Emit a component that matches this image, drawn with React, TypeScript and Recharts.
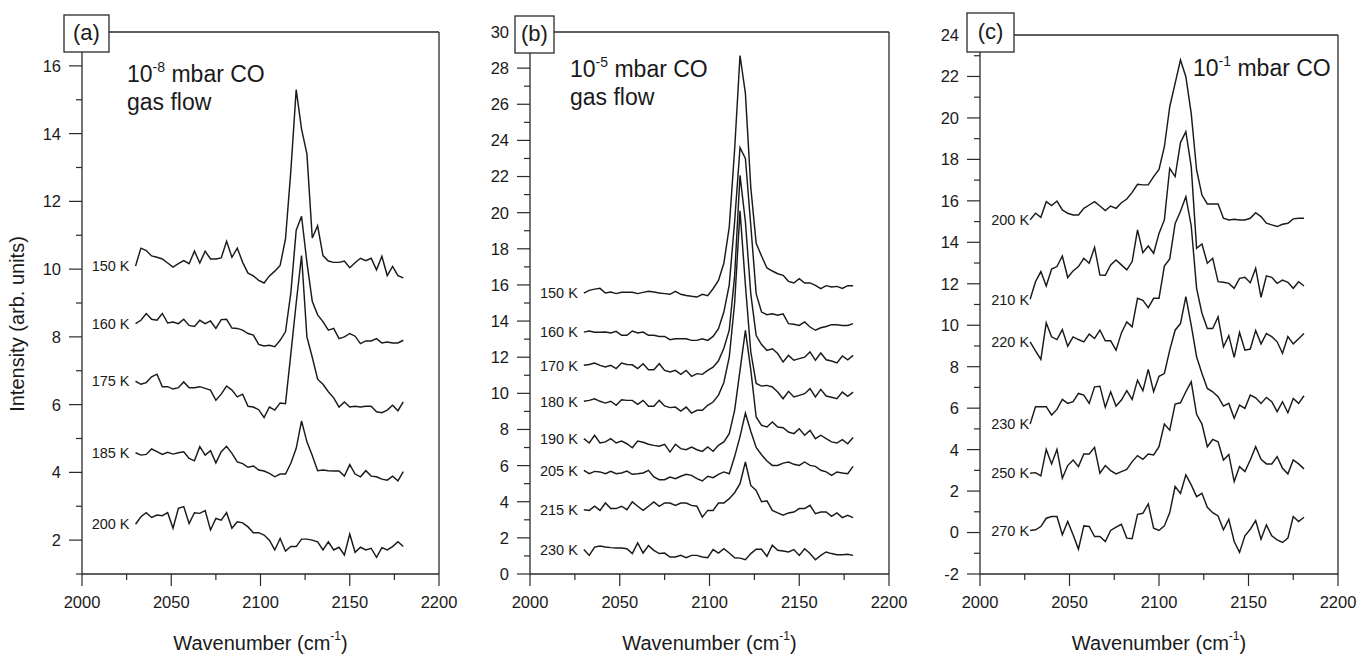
import { Line, LineChart, ReferenceLine, XAxis, YAxis } from "recharts";

const FONT = '"Liberation Sans", Arial, Helvetica, sans-serif';
const INK = "#1a1a1a";
const FRAME = "#2a2a2a";

// wavenumber grids (cm-1)
const wavenumbersAB = [
  2030, 2033, 2036, 2039, 2042, 2045, 2048, 2051, 2054, 2057, 2060, 2063, 2066, 2069, 2072, 2075, 2078,
  2081, 2084, 2087, 2090, 2093, 2096, 2099, 2102, 2105, 2108, 2111, 2114, 2117, 2120, 2123, 2126, 2129,
  2132, 2135, 2138, 2141, 2144, 2147, 2150, 2153, 2156, 2159, 2162, 2165, 2168, 2171, 2174, 2177, 2180,
];
const wavenumbersC = [
  2028, 2031, 2034, 2037, 2040, 2043, 2046, 2049, 2052, 2055, 2058, 2061, 2064, 2067, 2070, 2073, 2076,
  2079, 2082, 2085, 2088, 2091, 2094, 2097, 2100, 2103, 2106, 2109, 2112, 2115, 2118, 2121, 2124, 2127,
  2130, 2133, 2136, 2139, 2142, 2145, 2148, 2151, 2154, 2157, 2160, 2163, 2166, 2169, 2172, 2175, 2178,
  2181,
];

// (a) 1e-8 mbar CO
const a150 = [
  10.09, 10.62, 10.55, 10.39, 10.35, 10.3, 10.18, 10.06, 10.16, 10.25,
  10.16, 10.53, 10.18, 10.53, 10.3, 10.3, 10.33, 10.82, 10.35, 10.62,
  10.2, 9.88, 9.8, 9.67, 9.59, 9.8, 9.94, 10.11, 10.89, 12.9,
  15.3, 14.13, 13.4, 10.92, 11.28, 10.4, 10.24, 10.2, 10.2, 10.24,
  10.04, 10.19, 10.32, 10.25, 10.32, 9.98, 10.38, 9.81, 10.08, 9.81,
  9.74,
];
const a160 = [
  8.39, 8.49, 8.69, 8.52, 8.49, 8.69, 8.41, 8.44, 8.39, 8.52,
  8.34, 8.31, 8.49, 8.39, 8.47, 8.25, 8.51, 8.52, 8.26, 8.25,
  8.2, 8.1, 8.05, 7.78, 7.73, 7.75, 7.71, 7.9, 8.15, 9.3,
  11.15, 11.56, 10.2, 9.05, 8.65, 8.45, 8.2, 8.25, 7.95, 8.0,
  8.1, 8.02, 7.8, 7.88, 7.88, 7.95, 7.82, 7.85, 7.82, 7.82,
  7.9,
];
const a175 = [
  6.69, 6.6, 6.65, 6.82, 6.9, 6.53, 6.53, 6.46, 6.5, 6.67,
  6.5, 6.5, 6.53, 6.48, 6.43, 6.13, 6.31, 6.55, 6.43, 6.23,
  6.31, 5.95, 5.93, 5.85, 5.62, 5.93, 5.84, 6.05, 6.03, 7.5,
  9.0, 10.4, 8.0, 7.4, 6.75, 6.6, 6.38, 6.2, 5.93, 6.08,
  5.93, 5.95, 5.93, 5.95, 5.95, 5.79, 5.76, 5.84, 5.98, 5.82,
  6.08,
];
const a185 = [
  4.58, 4.51, 4.53, 4.69, 4.61, 4.53, 4.59, 4.54, 4.58, 4.61,
  4.41, 4.34, 4.76, 4.51, 4.64, 4.28, 4.61, 4.77, 4.56, 4.31,
  4.26, 4.15, 4.19, 4.07, 4.04, 3.97, 3.87, 3.95, 3.95, 4.27,
  4.71, 5.52, 4.9, 4.5, 4.05, 4.07, 4.05, 4.04, 4.04, 3.89,
  4.23, 3.95, 3.87, 4.05, 3.89, 3.87, 3.8, 3.77, 3.89, 3.75,
  4.02,
];
const a200 = [
  2.47, 2.69, 2.81, 2.67, 2.74, 2.72, 2.81, 2.35, 2.94, 2.99,
  2.49, 2.81, 2.79, 2.87, 2.3, 2.64, 2.59, 2.81, 2.35, 2.54,
  2.51, 2.39, 2.22, 2.22, 2.15, 2.0, 1.71, 2.05, 1.68, 1.81,
  1.81, 2.03, 2.03, 2.0, 1.95, 1.71, 1.95, 1.71, 1.79, 1.56,
  2.18, 1.64, 1.79, 1.71, 1.76, 1.49, 1.78, 1.71, 1.81, 1.95,
  1.81,
];

// (b) 1e-5 mbar CO
const b150 = [
  15.55, 15.7, 15.77, 15.81, 15.55, 15.61, 15.52, 15.59, 15.59, 15.59,
  15.52, 15.59, 15.65, 15.61, 15.55, 15.52, 15.48, 15.65, 15.48, 15.42,
  15.37, 15.33, 15.48, 15.41, 15.79, 16.25, 17.2, 19.2, 23.5, 28.7,
  26.6, 21.4, 18.3, 17.6, 16.94, 16.77, 16.62, 16.53, 16.2, 16.11,
  16.35, 16.11, 16.11, 15.98, 15.79, 15.96, 15.89, 15.92, 15.81, 15.96,
  15.96,
];
const b160 = [
  13.39, 13.45, 13.38, 13.38, 13.39, 13.34, 13.43, 13.21, 13.21, 13.45,
  13.34, 13.39, 13.21, 13.21, 13.15, 13.15, 12.97, 13.02, 13.02, 13.02,
  12.93, 12.93, 13.02, 12.93, 13.15, 13.58, 14.5, 16.0, 19.5, 23.6,
  23.0, 19.3, 15.5, 14.5, 14.35, 14.4, 14.32, 14.4, 13.86, 13.82,
  13.76, 13.95, 13.67, 13.49, 13.63, 13.7, 13.8, 13.8, 13.76, 13.76,
  13.86,
];
const b170 = [
  11.55, 11.6, 11.68, 11.55, 11.46, 11.55, 11.37, 11.68, 11.6, 11.58,
  11.37, 11.64, 11.31, 11.31, 11.64, 11.27, 11.18, 11.27, 11.05, 11.27,
  10.94, 11.09, 11.05, 11.27, 11.45, 11.8, 12.5, 13.5, 16.5, 22.06,
  19.5, 15.5, 13.2, 12.7, 12.38, 12.47, 12.2, 11.73, 12.1, 11.83,
  11.92, 12.0, 12.29, 11.83, 12.23, 11.86, 11.79, 11.68, 12.07, 11.86,
  12.1,
];
const b180 = [
  9.56, 9.61, 9.7, 9.56, 9.46, 9.56, 9.34, 9.65, 9.61, 9.61,
  9.39, 9.61, 9.28, 9.28, 9.61, 9.3, 9.21, 9.24, 9.02, 9.24,
  8.91, 9.06, 9.06, 9.34, 9.52, 9.9, 10.6, 12.0, 15.0, 20.1,
  16.0, 12.3, 10.55, 10.4, 10.44, 10.35, 10.07, 9.7, 10.11, 9.8,
  9.89, 9.98, 10.26, 9.8, 10.22, 9.85, 9.78, 9.7, 10.07, 9.83,
  10.07,
];
const b190 = [
  7.49, 7.25, 7.68, 7.25, 7.31, 7.49, 7.25, 7.36, 7.21, 6.99,
  7.36, 7.29, 7.18, 7.12, 7.07, 7.18, 6.75, 7.18, 6.94, 6.88,
  7.03, 6.88, 6.79, 7.03, 6.79, 7.12, 7.31, 7.77, 9.06, 11.27,
  13.49, 11.3, 8.69, 8.23, 8.14, 8.41, 8.14, 8.1, 7.86, 7.77,
  8.04, 7.68, 7.95, 7.49, 7.68, 7.49, 7.31, 7.25, 7.44, 7.21,
  7.55,
];
const b205 = [
  5.74, 5.55, 5.68, 5.65, 5.55, 5.68, 5.55, 5.59, 5.7, 5.52,
  5.55, 5.59, 5.74, 5.37, 5.22, 5.22, 5.37, 5.28, 5.41, 5.52,
  5.46, 5.28, 5.15, 5.41, 5.33, 5.52, 5.65, 5.55, 6.5, 7.6,
  8.9, 7.9, 7.0, 6.6, 6.25, 6.01, 6.01, 6.14, 6.2, 6.07,
  6.01, 6.2, 6.01, 5.96, 5.74, 5.65, 5.46, 5.65, 5.59, 5.55,
  5.96,
];
const b215 = [
  3.56, 3.52, 3.75, 3.52, 3.93, 3.62, 3.62, 3.75, 3.56, 3.99,
  3.75, 3.52, 3.75, 3.99, 3.75, 3.93, 3.93, 3.8, 3.93, 3.93,
  3.8, 3.75, 3.15, 3.52, 3.52, 3.93, 3.93, 4.17, 4.5, 5.0,
  6.2, 4.9, 4.63, 4.0, 4.05, 3.52, 3.38, 3.25, 3.38, 3.43,
  3.62, 3.62, 3.8, 3.34, 3.43, 3.43, 3.19, 3.38, 3.12, 3.25,
  3.12,
];
const b230 = [
  1.35, 1.03, 1.49, 1.55, 1.49, 1.46, 1.44, 1.44, 1.4, 1.13,
  1.72, 1.16, 1.57, 1.31, 1.13, 1.16, 0.94, 0.94, 1.03, 0.9,
  1.03, 1.03, 0.94, 0.9, 1.35, 1.16, 1.4, 1.16, 0.9, 0.88,
  0.79, 1.13, 1.37, 1.37, 0.98, 1.59, 1.31, 1.27, 1.22, 1.35,
  1.03, 1.4, 1.13, 0.79, 1.03, 1.22, 1.13, 1.07, 1.07, 1.09,
  1.03,
];

// (c) 1e-1 mbar CO
const c200 = [
  15.08, 15.4, 15.21, 15.96, 15.77, 15.99, 15.56, 15.4, 15.32, 15.32,
  15.64, 15.8, 15.96, 15.75, 15.53, 15.75, 15.64, 15.91, 16.09, 16.41,
  16.8, 16.77, 16.77, 17.17, 17.52, 18.61, 20.54, 21.67, 22.79, 21.99,
  20.22, 17.49, 16.28, 15.85, 15.85, 15.85, 15.16, 15.08, 15.11, 15.08,
  15.08, 15.16, 15.43, 15.24, 14.92, 14.84, 14.76, 14.87, 14.92, 15.13,
  15.16, 15.16,
];
const c210 = [
  11.25, 12.1, 12.59, 11.89, 12.71, 12.83, 13.34, 12.3, 12.62, 12.83,
  13.23, 12.99, 13.76, 12.42, 12.41, 12.91, 13.15, 12.91, 12.67, 13.07,
  14.6, 13.5, 13.82, 13.47, 14.43, 15.08, 17.57, 17.17, 18.81, 19.34,
  17.65, 13.71, 13.92, 12.99, 13.23, 12.1, 12.07, 12.02, 11.78, 12.26,
  12.31, 12.05, 12.75, 11.35, 12.38, 12.31, 12.02, 12.18, 12.07, 11.78,
  12.1, 11.89,
];
const c220 = [
  9.2, 8.76, 8.35, 10.11, 9.44, 9.31, 9.79, 8.99, 9.44, 9.31,
  9.2, 9.57, 9.36, 9.76, 9.25, 9.25, 8.8, 9.63, 10.16, 9.92,
  11.3, 11.2, 10.85, 11.3, 11.3, 12.85, 13.2, 14.9, 15.5, 16.2,
  14.8, 11.78, 10.58, 9.84, 9.84, 10.4, 8.95, 9.5, 8.45, 9.65,
  8.8, 8.85, 9.75, 9.1, 9.6, 9.45, 9.2, 8.65, 9.45, 9.1,
  9.35, 9.6,
];
const c230 = [
  5.23, 6.07, 6.07, 6.07, 5.67, 5.94, 6.42, 6.23, 6.31, 6.71,
  6.63, 6.23, 7.03, 7.06, 6.04, 6.79, 6.1, 6.39, 6.84, 6.42,
  7.35, 6.84, 7.87, 6.79, 7.54, 7.67, 8.8, 9.76, 10.08, 11.38,
  10.0, 8.48, 7.67, 6.95, 6.79, 6.55, 6.1, 6.23, 5.51, 6.15,
  5.99, 6.63, 6.5, 6.23, 6.52, 6.31, 5.83, 6.31, 5.78, 6.47,
  6.23, 6.6,
];
const c250 = [
  2.86, 2.89, 2.73, 4.01, 3.31, 4.01, 2.62, 3.23, 3.5, 3.18,
  3.79, 3.79, 4.11, 2.86, 3.23, 2.99, 2.83, 2.94, 3.05, 3.42,
  3.71, 3.53, 3.79, 3.74, 4.14, 5.23, 4.94, 6.2, 6.26, 6.79,
  7.27, 5.7, 5.23, 4.14, 4.49, 4.38, 3.5, 3.77, 2.46, 3.18,
  2.94, 3.5, 4.14, 3.53, 3.31, 3.31, 3.66, 3.1, 2.83, 3.5,
  3.31, 3.07,
];
const c270 = [
  0.1, 0.13, 0.29, 0.69, 0.77, 0.77, -0.11, 0.53, -0.11, -0.8,
  0.32, 0.29, -0.19, -0.19, -0.43, 0.1, 0.26, 0.4, -0.27, -0.3,
  0.88, 0.93, 1.38, 0.21, 0.1, 0.32, 0.96, 2.22, 1.89, 2.78,
  2.3, 1.73, 1.89, 1.22, 0.96, 0.8, 0.13, 0.64, -0.43, -0.96,
  -0.16, 0.16, 0.58, -0.32, 0.37, -0.16, -0.35, -0.48, -0.27, 0.77,
  0.53, 0.74,
];

// ticks
const xTicks = [2000, 2025, 2050, 2075, 2100, 2125, 2150, 2175, 2200];
const xMajorTicks = [2000, 2050, 2100, 2150, 2200];
const topMajorTicks = [2050, 2100, 2150];
const topMinorTicks = [2025, 2075, 2125, 2175];
const yTicksA = [1, 2, 3, 4, 5, 6, 7, 8, 9, 10, 11, 12, 13, 14, 15, 16, 17];
const yMajorA = [2, 4, 6, 8, 10, 12, 14, 16];
const yTicksB = [
  0, 1, 2, 3, 4, 5, 6, 7, 8, 9, 10, 11, 12, 13, 14, 15, 16, 17, 18, 19, 20, 21, 22, 23, 24, 25, 26, 27,
  28, 29, 30,
];
const yMajorB = [0, 2, 4, 6, 8, 10, 12, 14, 16, 18, 20, 22, 24, 26, 28, 30];
const yTicksC = [
  -2, -1, 0, 1, 2, 3, 4, 5, 6, 7, 8, 9, 10, 11, 12, 13, 14, 15, 16, 17, 18, 19, 20, 21, 22, 23, 24,
];
const yMajorC = [-2, 0, 2, 4, 6, 8, 10, 12, 14, 16, 18, 20, 22, 24];

type SeriesDef = { key: string; label: string; values: number[] };

const seriesA: SeriesDef[] = [
  { key: "t150", label: "150 K", values: a150 },
  { key: "t160", label: "160 K", values: a160 },
  { key: "t175", label: "175 K", values: a175 },
  { key: "t185", label: "185 K", values: a185 },
  { key: "t200", label: "200 K", values: a200 },
];
const seriesB: SeriesDef[] = [
  { key: "t150", label: "150 K", values: b150 },
  { key: "t160", label: "160 K", values: b160 },
  { key: "t170", label: "170 K", values: b170 },
  { key: "t180", label: "180 K", values: b180 },
  { key: "t190", label: "190 K", values: b190 },
  { key: "t205", label: "205 K", values: b205 },
  { key: "t215", label: "215 K", values: b215 },
  { key: "t230", label: "230 K", values: b230 },
];
const seriesC: SeriesDef[] = [
  { key: "t200", label: "200 K", values: c200 },
  { key: "t210", label: "210 K", values: c210 },
  { key: "t220", label: "220 K", values: c220 },
  { key: "t230", label: "230 K", values: c230 },
  { key: "t250", label: "250 K", values: c250 },
  { key: "t270", label: "270 K", values: c270 },
];

function buildRows(wns: number[], series: SeriesDef[]) {
  return wns.map((wn, i) => {
    const row: Record<string, number> = { wn };
    series.forEach((s) => {
      row[s.key] = s.values[i];
    });
    return row;
  });
}

const Y_TICK = 13;
const Y_MINOR = 6;
const Y_GAP = 8;
const X_TICK = 12;
const X_MINOR = 6;
const X_GAP = 10;

function makeYTick(major: number[]) {
  return (props: any) => {
    const { x, y, payload } = props;
    const isMajor = major.includes(payload.value);
    const axisX = x + Y_TICK + Y_GAP;
    return (
      <g>
        <line
          x1={axisX - (isMajor ? Y_TICK : Y_MINOR)}
          x2={axisX}
          y1={y}
          y2={y}
          stroke={FRAME}
          strokeWidth={1.2}
        />
        {isMajor && (
          <text x={x} y={y} dy="0.36em" textAnchor="end" fontSize={16.5} fontFamily={FONT} fill={INK}>
            {payload.value}
          </text>
        )}
      </g>
    );
  };
}

function XTick(props: any) {
  const { x, y, payload } = props;
  const isMajor = xMajorTicks.includes(payload.value);
  const axisY = y - X_TICK - X_GAP;
  return (
    <g>
      <line
        x1={x}
        x2={x}
        y1={axisY}
        y2={axisY + (isMajor ? X_TICK : X_MINOR)}
        stroke={FRAME}
        strokeWidth={1.2}
      />
      {isMajor && (
        <text x={x} y={y} dy="0.72em" textAnchor="middle" fontSize={16.5} fontFamily={FONT} fill={INK}>
          {payload.value}
        </text>
      )}
    </g>
  );
}

function startLabel(text: string, gap: number) {
  return (props: any) => {
    if (props.index !== 0) return <g key={`p${props.index}`} />;
    return (
      <text
        key="start"
        x={props.cx - gap}
        y={props.cy}
        dy="0.36em"
        textAnchor="end"
        fontSize={14.5}
        fontFamily={FONT}
        fill={INK}
      >
        {text}
      </text>
    );
  };
}

type PanelProps = {
  left: number;
  width: number;
  rightPad: number;
  top: number;
  yAxisWidth: number;
  wns: number[];
  series: SeriesDef[];
  yDomain: [number, number];
  yTicks: number[];
  yMajor: number[];
  labelGap: number;
};

function Panel(p: PanelProps) {
  const rows = buildRows(p.wns, p.series);
  const frame = { stroke: FRAME, strokeWidth: 1.3 };
  return (
    <div style={{ position: "absolute", left: p.left, top: 0 }}>
      <LineChart
        width={p.width}
        height={655}
        data={rows}
        margin={{ top: p.top, right: p.rightPad, bottom: 0, left: 0 }}
      >
        <XAxis
          dataKey="wn"
          type="number"
          domain={[2000, 2200]}
          ticks={xTicks}
          interval={0}
          height={81}
          tickSize={X_TICK}
          tickMargin={X_GAP}
          tickLine={false}
          axisLine={frame}
          tick={XTick}
        />
        <XAxis
          xAxisId="topMajor"
          orientation="top"
          mirror
          type="number"
          domain={[2000, 2200]}
          ticks={topMajorTicks}
          interval={0}
          tick={false}
          tickSize={11}
          tickLine={{ stroke: FRAME, strokeWidth: 1.2 }}
          axisLine={frame}
        />
        <XAxis
          xAxisId="topMinor"
          orientation="top"
          mirror
          type="number"
          domain={[2000, 2200]}
          ticks={topMinorTicks}
          interval={0}
          tick={false}
          tickSize={6}
          tickLine={{ stroke: FRAME, strokeWidth: 1.2 }}
          axisLine={false}
        />
        <YAxis
          type="number"
          domain={p.yDomain}
          ticks={p.yTicks}
          interval={0}
          width={p.yAxisWidth}
          tickSize={Y_TICK}
          tickMargin={Y_GAP}
          tickLine={false}
          axisLine={frame}
          tick={makeYTick(p.yMajor)}
        />
        <ReferenceLine x={2200} stroke={FRAME} strokeWidth={1.3} />
        {p.series.map((s) => (
          <Line
            key={s.key}
            dataKey={s.key}
            type="linear"
            stroke={INK}
            strokeWidth={1.45}
            dot={startLabel(s.label, p.labelGap)}
            activeDot={false}
            isAnimationActive={false}
          />
        ))}
      </LineChart>
    </div>
  );
}

function PanelTag({ x, y, w, h, text }: { x: number; y: number; w: number; h: number; text: string }) {
  return (
    <g>
      <rect x={x} y={y} width={w} height={h} fill="#fff" stroke={FRAME} strokeWidth={1.3} />
      <text x={x + w / 2} y={y + h / 2 + 6.5} textAnchor="middle" fontSize={22} fontFamily={FONT} fill={INK}>
        {text}
      </text>
    </g>
  );
}

function Pressure({ x, y, exp, flow }: { x: number; y: number; exp: string; flow: boolean }) {
  return (
    <g fontFamily={FONT} fill={INK}>
      <text x={x} y={y} fontSize={23}>
        10
        <tspan dy={-10} fontSize={14}>
          {exp}
        </tspan>
        <tspan dy={10}> mbar CO</tspan>
      </text>
      {flow && (
        <text x={x} y={y + 28} fontSize={23}>
          gas flow
        </text>
      )}
    </g>
  );
}

function XTitle({ cx }: { cx: number }) {
  return (
    <text x={cx} y={650} textAnchor="middle" fontSize={20} fontFamily={FONT} fill={INK}>
      Wavenumber (cm
      <tspan dy={-10} fontSize={12}>
        -1
      </tspan>
      <tspan dy={10}>)</tspan>
    </text>
  );
}

export default function App() {
  return (
    <div
      style={{
        position: "absolute",
        left: 0,
        top: 0,
        width: 1359,
        height: 655,
        background: "#fff",
        overflow: "hidden",
      }}
    >
      <Panel
        left={0}
        width={470}
        rightPad={31}
        top={32}
        yAxisWidth={82}
        wns={wavenumbersAB}
        series={seriesA}
        yDomain={[1, 17]}
        yTicks={yTicksA}
        yMajor={yMajorA}
        labelGap={6}
      />
      <Panel
        left={455}
        width={470}
        rightPad={36}
        top={32}
        yAxisWidth={75}
        wns={wavenumbersAB}
        series={seriesB}
        yDomain={[0, 30]}
        yTicks={yTicksB}
        yMajor={yMajorB}
        labelGap={6}
      />
      <Panel
        left={905}
        width={454}
        rightPad={21}
        top={35}
        yAxisWidth={75}
        wns={wavenumbersC}
        series={seriesC}
        yDomain={[-2, 24]}
        yTicks={yTicksC}
        yMajor={yMajorC}
        labelGap={1}
      />
      <svg
        width={1359}
        height={655}
        style={{ position: "absolute", left: 0, top: 0, pointerEvents: "none" }}
      >
        <PanelTag x={64} y={15} w={45} h={37} text="(a)" />
        <PanelTag x={515} y={16} w={39} h={37} text="(b)" />
        <PanelTag x={967} y={13} w={47} h={39} text="(c)" />
        <Pressure x={127} y={82} exp="-8" flow />
        <Pressure x={570} y={77} exp="-5" flow />
        <Pressure x={1193} y={76} exp="-1" flow={false} />
        <text
          transform="translate(24,324) rotate(-90)"
          textAnchor="middle"
          fontSize={20}
          fontFamily={FONT}
          fill={INK}
        >
          Intensity (arb. units)
        </text>
        <XTitle cx={260.5} />
        <XTitle cx={709.5} />
        <XTitle cx={1159} />
      </svg>
    </div>
  );
}
